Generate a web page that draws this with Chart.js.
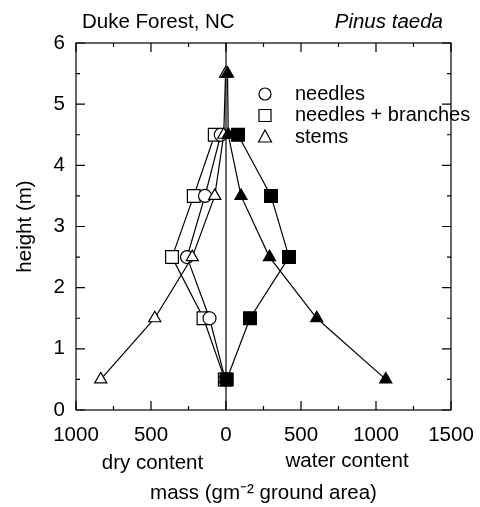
<!DOCTYPE html>
<html>
<head>
<meta charset="utf-8">
<script src="https://cdn.jsdelivr.net/npm/chart.js@4.4.0/dist/chart.umd.min.js"></script>
<style>
	html, body { margin: 0; padding: 0; background: #fff; }
</style>
</head>
<body>
<canvas id="chart" width="480" height="507"></canvas>
<script>
// sampling heights (m)
var heights = [0.5, 1.5, 2.5, 3.5, 4.5, 5.5];

// dry content, plotted to the left (negative side)
var needlesDry = [-5, -110, -260, -140, -35];
var branchesDry = [-8, -150, -360, -215, -75];
var stemsDry = [-835, -475, -225, -75, -15, -3];

// water content, plotted to the right
var branchesWater = [5, 160, 420, 300, 80];
var stemsWater = [1065, 605, 290, 100, 15, 10];

var xMajor = [-1000, -500, 0, 500, 1000, 1500];
var xMinor = [-750, -250, 250, 750, 1250];
var yMajor = [0, 1, 2, 3, 4, 5, 6];
var yMinor = [0.5, 1.5, 2.5, 3.5, 4.5, 5.5];

var legendLabels = ['needles', 'needles + branches', 'stems'];

var FONT = '"Liberation Sans", Arial, Helvetica, sans-serif';
var SIZE = 20.5;

function toPoints(xs) {
	return xs.map(function (x, i) { return { x: x, y: heights[i] }; });
}

function series(xs, shape, filled, radius) {
	return {
		data: toPoints(xs),
		showLine: true,
		borderColor: '#000',
		borderWidth: 1.2,
		pointStyle: shape,
		pointRadius: radius,
		pointHoverRadius: radius,
		pointBorderWidth: 1.2,
		pointBorderColor: '#000',
		pointBackgroundColor: filled ? '#000' : '#fff'
	};
}

function marker(ctx, shape, x, y, filled) {
	ctx.save();
	ctx.beginPath();
	if (shape === 'circle') {
		ctx.arc(x, y, 6, 0, Math.PI * 2);
	} else if (shape === 'rect') {
		ctx.rect(x - 6, y - 6, 12, 12);
	} else {
		ctx.moveTo(x, y - 7);
		ctx.lineTo(x + 6.5, y + 5);
		ctx.lineTo(x - 6.5, y + 5);
		ctx.closePath();
	}
	ctx.fillStyle = filled ? '#000' : '#fff';
	ctx.fill();
	ctx.lineWidth = 1.2;
	ctx.strokeStyle = '#000';
	ctx.stroke();
	ctx.restore();
}

var decor = {
	id: 'decor',
	beforeDatasetsDraw: function (chart) {
		var ctx = chart.ctx, area = chart.chartArea;
		var x0 = chart.scales.x.getPixelForValue(0);
		ctx.save();
		ctx.strokeStyle = '#000';
		ctx.lineWidth = 1.2;
		ctx.beginPath();
		ctx.moveTo(x0, area.top);
		ctx.lineTo(x0, area.bottom);
		ctx.stroke();
		ctx.restore();
	},
	afterDraw: function (chart) {
		var ctx = chart.ctx, area = chart.chartArea;
		var xs = chart.scales.x, ys = chart.scales.y;

		ctx.save();
		ctx.strokeStyle = '#000';
		ctx.lineWidth = 1.2;
		ctx.strokeRect(area.left, area.top, area.right - area.left, area.bottom - area.top);

		// inward ticks on all four sides
		function xTick(v, len) {
			var px = xs.getPixelForValue(v);
			ctx.moveTo(px, area.bottom); ctx.lineTo(px, area.bottom - len);
			ctx.moveTo(px, area.top); ctx.lineTo(px, area.top + len);
		}
		function yTick(v, len) {
			var py = ys.getPixelForValue(v);
			ctx.moveTo(area.left, py); ctx.lineTo(area.left + len, py);
			ctx.moveTo(area.right, py); ctx.lineTo(area.right - len, py);
		}
		ctx.beginPath();
		xMajor.forEach(function (v) { xTick(v, 9); });
		xMinor.forEach(function (v) { xTick(v, 4); });
		yMajor.forEach(function (v) { yTick(v, 9); });
		yMinor.forEach(function (v) { yTick(v, 4); });
		ctx.stroke();

		// header texts
		ctx.fillStyle = '#000';
		ctx.textBaseline = 'middle';
		ctx.font = SIZE + 'px ' + FONT;
		ctx.textAlign = 'left';
		ctx.fillText('Duke Forest, NC', 82, 22);
		ctx.font = 'italic ' + SIZE + 'px ' + FONT;
		ctx.textAlign = 'right';
		ctx.fillText('Pinus taeda', 443, 22);

		// side captions under the x axis
		ctx.font = SIZE + 'px ' + FONT;
		ctx.textAlign = 'center';
		ctx.fillText('dry content', xs.getPixelForValue(-490), 463);
		ctx.fillText('water content', xs.getPixelForValue(807), 461);

		// legend
		var shapes = ['circle', 'rect', 'triangle'];
		ctx.font = '20px ' + FONT;
		ctx.textAlign = 'left';
		legendLabels.forEach(function (label, i) {
			var ly = 94 + i * 21.5;
			marker(ctx, shapes[i], 265, ly, false);
			ctx.fillStyle = '#000';
			ctx.fillText(label, 295, ly);
		});
		ctx.restore();
	}
};

new Chart(document.getElementById('chart'), {
	type: 'scatter',
	data: {
		// first dataset is painted last, so filled markers sit on top
		datasets: [
			series(stemsWater, 'triangle', true, 7),
			series(branchesWater, 'rect', true, 9),
			series(stemsDry, 'triangle', false, 7),
			series(needlesDry, 'circle', false, 6.5),
			series(branchesDry, 'rect', false, 9)
		]
	},
	options: {
		responsive: false,
		animation: false,
		layout: { padding: { top: 43, right: 29, left: 0, bottom: 0 } },
		plugins: {
			legend: { display: false },
			tooltip: { enabled: false }
		},
		scales: {
			x: {
				type: 'linear',
				min: -1000,
				max: 1500,
				grid: { display: false, drawTicks: false },
				border: { display: false },
				ticks: {
					stepSize: 500,
					padding: 13,
					color: '#000',
					font: { family: FONT, size: SIZE },
					callback: function (v) { return Math.abs(v); }
				},
				title: {
					display: true,
					text: 'mass (gm\u207B\u00B2 ground area)',
					color: '#000',
					font: { family: FONT, size: SIZE },
					padding: { top: 0, bottom: 1 }
				},
				afterFit: function (scale) {
					scale.height = 97;
					scale.paddingLeft = 0;
					scale.paddingRight = 0;
				}
			},
			y: {
				type: 'linear',
				min: 0,
				max: 6,
				grid: { display: false, drawTicks: false },
				border: { display: false },
				ticks: {
					stepSize: 1,
					padding: 11,
					color: '#000',
					font: { family: FONT, size: SIZE }
				},
				title: {
					display: true,
					text: 'height (m)',
					color: '#000',
					font: { family: FONT, size: SIZE },
					padding: { top: 13, bottom: 0 }
				},
				afterFit: function (scale) {
					scale.width = 76;
					scale.paddingTop = 0;
					scale.paddingBottom = 0;
				}
			}
		}
	},
	plugins: [decor]
});
</script>
</body>
</html>
